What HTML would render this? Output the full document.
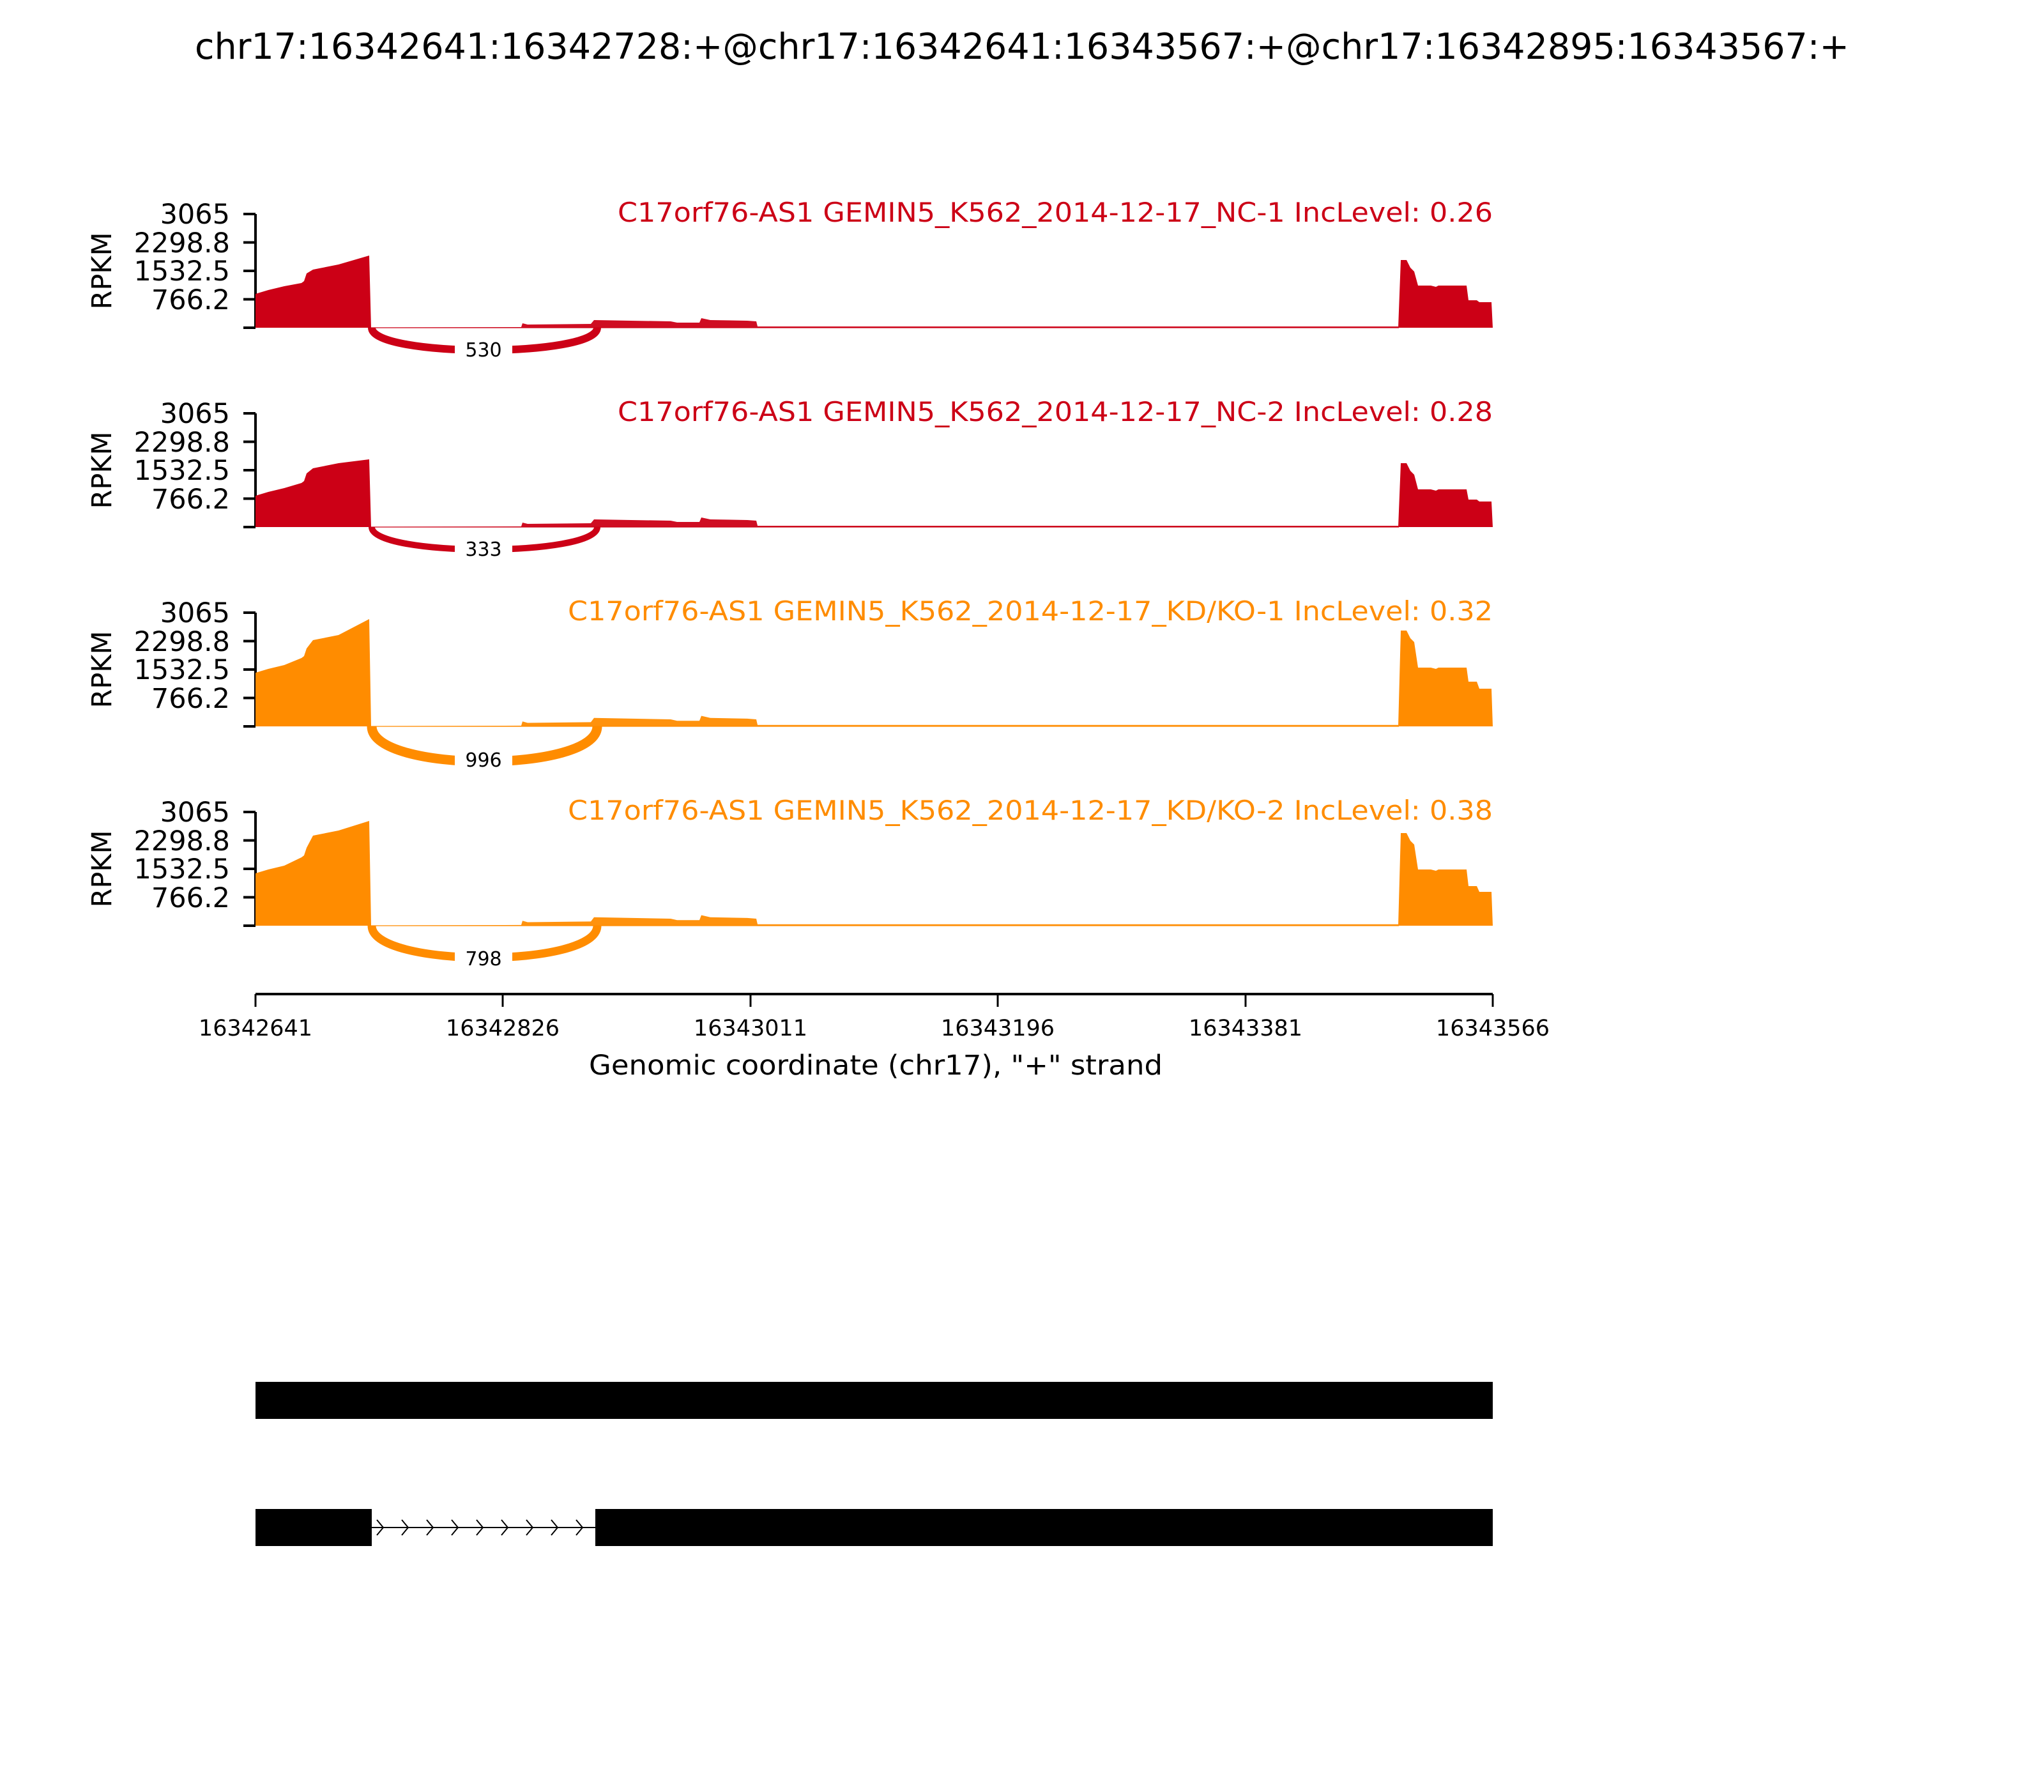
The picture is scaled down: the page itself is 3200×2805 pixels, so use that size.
<!DOCTYPE html>
<html><head><meta charset="utf-8"><style>
html,body{margin:0;padding:0;background:#fff;}
svg text{font-family:"DejaVu Sans","Liberation Sans",sans-serif;}
</style></head><body>
<svg id="s" xmlns="http://www.w3.org/2000/svg" width="3200" height="2800" viewBox="0 0 3200 2800">
<rect width="3200" height="2800" fill="#fff"/>
<text x="1600" y="92" font-size="56" text-anchor="middle" textLength="2590" lengthAdjust="spacingAndGlyphs">chr17:16342641:16342728:+@chr17:16342641:16343567:+@chr17:16342895:16343567:+</text>
<g id="panels"></g>
<text x="2337" y="347" font-size="42" text-anchor="end" fill="#CC0016" textLength="1370" lengthAdjust="spacingAndGlyphs">C17orf76-AS1 GEMIN5_K562_2014-12-17_NC-1 IncLevel: 0.26</text>
<text x="2337" y="659" font-size="42" text-anchor="end" fill="#CC0016" textLength="1370" lengthAdjust="spacingAndGlyphs">C17orf76-AS1 GEMIN5_K562_2014-12-17_NC-2 IncLevel: 0.28</text>
<text x="2337" y="971" font-size="42" text-anchor="end" fill="#FF8C00" textLength="1448" lengthAdjust="spacingAndGlyphs">C17orf76-AS1 GEMIN5_K562_2014-12-17_KD/KO-1 IncLevel: 0.32</text>
<text x="2337" y="1283" font-size="42" text-anchor="end" fill="#FF8C00" textLength="1448" lengthAdjust="spacingAndGlyphs">C17orf76-AS1 GEMIN5_K562_2014-12-17_KD/KO-2 IncLevel: 0.38</text>
<g font-size="43" text-anchor="end">
<text x="360" y="350">3065</text><text x="360" y="395">2298.8</text><text x="360" y="439">1532.5</text><text x="360" y="484">766.2</text>
<text x="360" y="662">3065</text><text x="360" y="707">2298.8</text><text x="360" y="751">1532.5</text><text x="360" y="796">766.2</text>
<text x="360" y="974">3065</text><text x="360" y="1019">2298.8</text><text x="360" y="1063">1532.5</text><text x="360" y="1108">766.2</text>
<text x="360" y="1286">3065</text><text x="360" y="1331">2298.8</text><text x="360" y="1375">1532.5</text><text x="360" y="1420">766.2</text>
</g>
<g font-size="43" text-anchor="middle">
<text transform="translate(174,424) rotate(-90)">RPKM</text>
<text transform="translate(174,736) rotate(-90)">RPKM</text>
<text transform="translate(174,1048) rotate(-90)">RPKM</text>
<text transform="translate(174,1360) rotate(-90)">RPKM</text>
</g>
<g font-size="30" text-anchor="middle">
<text x="757" y="558">530</text>
<text x="757" y="870">333</text>
<text x="757" y="1200">996</text>
<text x="757" y="1511">798</text>
</g>
<line x1="400" y1="1556" x2="2337" y2="1556" stroke="#000" stroke-width="4"/>
<g stroke="#000" stroke-width="3">
<line x1="400" y1="1556" x2="400" y2="1576"/><line x1="787" y1="1556" x2="787" y2="1576"/><line x1="1175" y1="1556" x2="1175" y2="1576"/><line x1="1562" y1="1556" x2="1562" y2="1576"/><line x1="1950" y1="1556" x2="1950" y2="1576"/><line x1="2337" y1="1556" x2="2337" y2="1576"/>
</g>
<g font-size="35" text-anchor="middle">
<text x="400" y="1621">16342641</text><text x="787" y="1621">16342826</text><text x="1175" y="1621">16343011</text><text x="1562" y="1621">16343196</text><text x="1950" y="1621">16343381</text><text x="2337" y="1621">16343566</text>
</g>
<text x="1371" y="1682" font-size="43" text-anchor="middle" textLength="898" lengthAdjust="spacingAndGlyphs">Genomic coordinate (chr17), "+" strand</text>
<rect x="400" y="2163" width="1937" height="58" fill="#000"/>
<rect x="400" y="2362" width="182" height="58" fill="#000"/>
<rect x="932" y="2362" width="1405" height="58" fill="#000"/>
<line x1="582" y1="2391" x2="932" y2="2391" stroke="#000" stroke-width="2"/>
<g id="chev" fill="none" stroke="#000" stroke-width="2"></g>
</svg>
<script>
var NS="http://www.w3.org/2000/svg";
var g=document.getElementById('panels');
function add(tag,attrs){var e=document.createElementNS(NS,tag);for(var k in attrs)e.setAttribute(k,attrs[k]);g.appendChild(e);return e;}
var P=[
 {top:335,c:"#CC0016",L:[53,73,93,113],R:[106,66,43,40],m:1,d:35,w:12},
 {top:647,c:"#CC0016",L:[49,72,94,106],R:[100,59,43,40],m:1,d:35,w:10},
 {top:959,c:"#FF8C00",L:[84,110,137,168],R:[150,92,70,59],m:1.1,d:55,w:15},
 {top:1271,c:"#FF8C00",L:[82,110,143,164],R:[145,88,62,53],m:1.1,d:50,w:13}
];
P.forEach(function(p){
 var b=p.top+178,t=p.top;
 add('line',{x1:400,y1:t,x2:400,y2:b,stroke:'#000','stroke-width':4});
 for(var k=0;k<5;k++){var y=t+k*44.5;add('line',{x1:381,y1:y,x2:400,y2:y,stroke:'#000','stroke-width':4});}
 var L=p.L,R=p.R,m=p.m;
 var d="M400,"+b+" L400,"+(b-L[0])+" L420,"+(b-L[0]-6)+" L445,"+(b-L[0]-12)+" L472,"+(b-L[1]+3)+" L476,"+(b-L[1])+" L480,"+(b-L[1]-12)+" L490,"+(b-L[2]+2)+" L500,"+(b-L[2])+" L530,"+(b-L[2]-6)+" L578,"+(b-L[3])+" L581,"+b+" Z";
 add('path',{d:d,fill:p.c});
 var h=function(v){return b-v*m;};
 d="M581,"+b+" L816,"+h(1)+" L818,"+h(7)+" L826,"+h(5)+" L925,"+h(6)+" L930,"+h(12)+" L1050,"+h(10)+" L1060,"+h(8)+" L1095,"+h(8)+" L1098,"+h(15)+" L1112,"+h(12)+" L1170,"+h(11)+" L1184,"+h(10)+" L1186,"+h(2)+" L2189,"+h(2)+" L2189,"+b+" Z";
 add('path',{d:d,fill:p.c,opacity:0.95});
 add('line',{x1:581,y1:b,x2:2190,y2:b,stroke:p.c,'stroke-width':2,opacity:0.6});
 d="M2189,"+b+" L2193,"+(b-R[0])+" L2202,"+(b-R[0])+" L2208,"+(b-R[0]+12)+" L2214,"+(b-R[0]+18)+" L2220,"+(b-R[1])+" L2240,"+(b-R[1])+" L2248,"+(b-R[1]+2)+" L2252,"+(b-R[1])+" L2296,"+(b-R[1])+" L2299,"+(b-R[2])+" L2312,"+(b-R[2]-0)+" L2316,"+(b-R[3])+" L2335,"+(b-R[3])+" L2337,"+b+" Z";
 add('path',{d:d,fill:p.c});
 var cy=b+p.d*4/3;
 add('path',{d:"M582,"+b+" C582,"+cy+" 935,"+cy+" 935,"+b,fill:'none',stroke:p.c,'stroke-width':p.w});
 add('rect',{x:712,y:b+p.d-22,width:90,height:44,fill:'#fff'});
});
var texts=document.querySelectorAll('svg > g[font-size="30"]');
texts.forEach(function(n){n.parentNode.appendChild(n);});
var ch=document.getElementById('chev');
for(var i=0;i<9;i++){var x=590+i*39;var p=document.createElementNS(NS,'path');p.setAttribute('d','M'+x+',2379 L'+(x+10)+',2391 L'+x+',2403');ch.appendChild(p);}
</script>
</body></html>
